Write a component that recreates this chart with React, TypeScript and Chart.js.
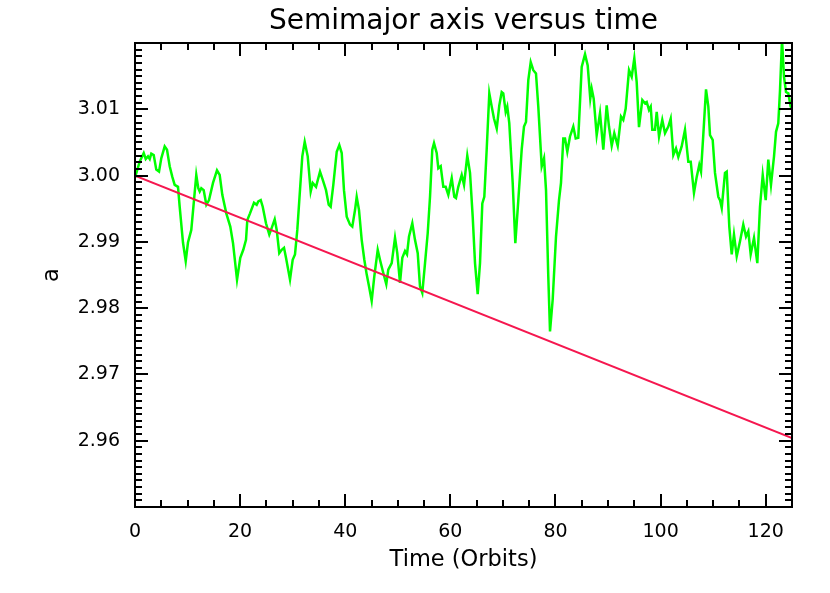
import React, { useEffect, useRef } from "react";
import { Chart, registerables } from "chart.js";

Chart.register(...registerables);

// Time (orbits) for the measured semimajor axis
const times: number[] = [
  0, 0.89, 1.66, 2.04, 2.47, 2.8, 3.1, 3.56, 4.05, 4.57, 5.0, 5.65, 6.09, 6.6, 7.1, 7.55, 8.18, 8.5, 9.13, 9.65,
  10.08, 10.71, 11.17, 11.66, 12.04, 12.31, 12.61, 13.07, 13.57, 14.08, 14.84, 15.6, 16.11, 16.61, 17.37, 18.13, 18.65, 19.41, 20.03, 20.6,
  21.12, 21.37, 21.88, 22.64, 23.15, 23.46, 23.92, 24.3, 24.92, 25.55, 26.01, 26.58, 26.96, 27.45, 27.91, 28.35, 28.73, 29.49, 30.0, 30.44,
  30.88, 31.39, 31.83, 32.29, 32.86, 33.43, 33.81, 34.44, 35.2, 35.71, 36.34, 36.85, 37.23, 37.73, 38.38, 38.87, 39.33, 39.76, 40.28, 40.91,
  41.34, 41.86, 42.18, 42.62, 43.13, 43.63, 44.08, 44.52, 45.03, 45.53, 46.18, 46.61, 47.24, 47.81, 48.19, 48.84, 49.47, 49.9, 50.42, 50.86,
  51.37, 51.75, 52.13, 52.76, 53.27, 53.79, 54.22, 54.66, 55.18, 55.69, 56.13, 56.56, 56.89, 57.4, 57.71, 58.16, 58.66, 59.11, 59.61, 60.26,
  60.75, 61.07, 61.51, 62.16, 62.6, 63.22, 63.74, 64.25, 64.69, 65.2, 65.64, 66.08, 66.46, 66.91, 67.41, 67.87, 68.3, 68.82, 69.31, 69.77,
  70.07, 70.53, 70.83, 71.21, 71.86, 72.36, 72.93, 73.57, 74.01, 74.39, 74.83, 75.29, 75.78, 76.29, 76.73, 77.38, 77.82, 78.2, 78.63, 78.96,
  79.47, 80.1, 80.67, 81.05, 81.49, 81.81, 82.25, 82.76, 83.39, 83.85, 84.34, 84.99, 85.62, 86.13, 86.62, 86.89, 87.27, 87.84, 88.47, 89.1,
  89.74, 90.18, 90.7, 91.19, 91.84, 92.47, 92.9, 93.36, 93.99, 94.5, 95.0, 95.45, 95.89, 96.52, 97.03, 97.36, 97.79, 98.12, 98.42, 98.93,
  99.26, 99.7, 100.32, 100.84, 101.47, 101.92, 102.42, 102.93, 103.37, 104.01, 104.64, 105.27, 105.73, 106.35, 106.87, 107.36, 107.69, 108.12, 108.64, 109.08,
  109.4, 109.91, 110.35, 110.98, 111.3, 111.63, 112.25, 112.58, 113.07, 113.53, 113.96, 114.48, 115.11, 115.73, 116.25, 116.69, 117.14, 117.77, 118.4, 118.91,
  119.43, 120.0, 120.49, 121.0, 121.58, 121.96, 122.39, 122.72, 123.1, 123.48, 123.86, 124.3, 124.75, 125.0,
];

// Semimajor axis a (measured)
const semimajor: number[] = [
  2.9997, 3.0021, 3.0034, 3.0025, 3.0029, 3.0025, 3.0033, 3.0031, 3.0009, 3.0006, 3.0026, 3.0044, 3.0039, 3.0014, 2.9998, 2.9986, 2.9983, 2.9953, 2.9899, 2.9871,
  2.9899, 2.9918, 2.9958, 3.0001, 2.9981, 2.9976, 2.9981, 2.9978, 2.9956, 2.9963, 2.9989, 3.0008, 3.0001, 2.9971, 2.9943, 2.9923, 2.9898, 2.9843, 2.9876, 2.9888,
  2.9903, 2.9933, 2.9943, 2.9959, 2.9956, 2.9961, 2.9963, 2.9953, 2.9928, 2.9911, 2.9921, 2.9934, 2.9918, 2.9883, 2.9888, 2.9891, 2.9876, 2.9843, 2.9873, 2.9881,
  2.9918, 2.9978, 3.0029, 3.0051, 3.0029, 2.9976, 2.9989, 2.9983, 3.0006, 2.9994, 2.9978, 2.9956, 2.9953, 2.9986, 3.0036, 3.0046, 3.0034, 2.9978, 2.9938, 2.9926,
  2.9923, 2.9948, 2.9968, 2.9948, 2.9903, 2.9873, 2.9851, 2.9833, 2.9811, 2.9848, 2.9888, 2.9873, 2.9853, 2.9836, 2.9858, 2.9868, 2.9906, 2.9883, 2.9838, 2.9876,
  2.9886, 2.9881, 2.9908, 2.9928, 2.9903, 2.9883, 2.9833, 2.9823, 2.9868, 2.9913, 2.9968, 3.0039, 3.0049, 3.0034, 3.0011, 3.0014, 2.9983, 2.9983, 2.9971, 2.9996,
  2.9968, 2.9966, 2.9983, 3.0001, 2.9986, 3.003, 3.0004, 2.9938, 2.9868, 2.9821, 2.9868, 2.9958, 2.9968, 3.0039, 3.0124, 3.0104, 3.0086, 3.0071, 3.0106, 3.0126,
  3.0124, 3.0096, 3.0104, 3.0079, 2.9989, 2.9898, 2.9963, 3.0039, 3.0074, 3.0081, 3.0144, 3.0171, 3.0159, 3.0154, 3.0104, 3.0014, 3.0026, 2.9978, 2.9848, 2.9765,
  2.9813, 2.9908, 2.9963, 2.9989, 3.0056, 3.0056, 3.0036, 3.0059, 3.0074, 3.0056, 3.0057, 3.0164, 3.0183, 3.0166, 3.0116, 3.0131, 3.0116, 3.0061, 3.0094, 3.0039,
  3.0106, 3.0074, 3.0045, 3.0064, 3.0045, 3.0089, 3.0084, 3.0101, 3.0159, 3.0149, 3.0177, 3.0141, 3.0073, 3.0114, 3.0109, 3.0111, 3.0099, 3.0104, 3.0069, 3.0069,
  3.0096, 3.0059, 3.0084, 3.0064, 3.0074, 3.0086, 3.0031, 3.0041, 3.0028, 3.0044, 3.0069, 3.0021, 3.0021, 2.9974, 2.9998, 3.0016, 3.0006, 3.0061, 3.013, 3.0104,
  3.0061, 3.0054, 3.0004, 2.9968, 2.9963, 2.9951, 3.0004, 3.0006, 2.9923, 2.9881, 2.9911, 2.9878, 2.9901, 2.9926, 2.9908, 2.9916, 2.9881, 2.9906, 2.9868, 2.9953,
  3.0001, 2.9963, 3.0024, 2.9986, 3.0029, 3.0066, 3.0079, 3.0129, 3.0205, 3.0149, 3.0126, 3.0124, 3.0104, 3.0102,
];

// Linear trend
const trendTimes: number[] = [0, 125];
const trendValues: number[] = [3.0, 2.9604];

// Axes
const xRange: number[] = [0, 125];
const yRange: number[] = [2.95, 3.02];
const xTickValues: number[] = [0, 20, 40, 60, 80, 100, 120];
const yTickValues: number[] = [2.96, 2.97, 2.98, 2.99, 3.0, 3.01];
const yTickLabels: string[] = ["2.96", "2.97", "2.98", "2.99", "3.00", "3.01"];
const xMajorStep = 20;
const xMinorStep = 5;
const yMajorStep = 0.01;
const yMinorStep = 0.001;

const TICK_FONT = { family: "DejaVu Sans", size: 19 };

const frameTicks = {
  id: "frameTicks",
  afterDatasetsDraw(chart: any) {
    const { ctx, chartArea, scales } = chart;
    const { left, right, top, bottom } = chartArea;
    const x = scales.x;
    const y = scales.y;
    ctx.save();
    ctx.strokeStyle = "#000";
    ctx.lineWidth = 2;
    ctx.beginPath();
    const nx = Math.round((xRange[1] - xRange[0]) / xMinorStep);
    for (let i = 0; i <= nx; i++) {
      const v = xRange[0] + i * xMinorStep;
      const px = Math.round(x.getPixelForValue(v));
      const major = Math.abs(v / xMajorStep - Math.round(v / xMajorStep)) < 1e-6;
      const len = major ? 13 : 7;
      ctx.moveTo(px, bottom);
      ctx.lineTo(px, bottom - len);
      ctx.moveTo(px, top);
      ctx.lineTo(px, top + len);
    }
    const ny = Math.round((yRange[1] - yRange[0]) / yMinorStep);
    for (let i = 0; i <= ny; i++) {
      const v = yRange[0] + i * yMinorStep;
      const py = Math.round(y.getPixelForValue(v));
      const major = i % Math.round(yMajorStep / yMinorStep) === 0;
      const len = major ? 13 : 7;
      ctx.moveTo(left, py);
      ctx.lineTo(left + len, py);
      ctx.moveTo(right, py);
      ctx.lineTo(right - len, py);
    }
    ctx.stroke();
    ctx.strokeRect(left, top, right - left, bottom - top);
    ctx.restore();
  },
};

export default function App() {
  const ref = useRef<HTMLCanvasElement | null>(null);

  useEffect(() => {
    if (!ref.current) return;
    const n = Math.min(times.length, semimajor.length);
    const measured = [];
    for (let i = 0; i < n; i++) measured.push({ x: times[i], y: semimajor[i] });
    const trend = trendTimes.map((t, i) => ({ x: t, y: trendValues[i] }));

    const chart = new Chart(ref.current, {
      type: "line",
      data: {
        datasets: [
          {
            label: "trend",
            data: trend,
            borderColor: "#f5174f",
            borderWidth: 2,
            pointRadius: 0,
            tension: 0,
          },
          {
            label: "a",
            data: measured,
            borderColor: "#00ff00",
            borderWidth: 2.5,
            pointRadius: 0,
            tension: 0,
          },
        ],
      },
      plugins: [frameTicks],
      options: {
        animation: false,
        responsive: false,
        devicePixelRatio: 1,
        layout: { padding: { left: 0, right: 38, top: 0, bottom: 0 } },
        plugins: {
          legend: { display: false },
          tooltip: { enabled: false },
          title: {
            display: true,
            fullSize: false,
            text: "Semimajor axis versus time",
            color: "#000",
            font: { family: "DejaVu Sans", size: 28, weight: "normal" },
            padding: { top: 5, bottom: 4.4 },
          },
        },
        scales: {
          x: {
            type: "linear",
            min: xRange[0],
            max: xRange[1],
            grid: { display: false, drawTicks: false },
            border: { display: false },
            afterBuildTicks: (s: any) => {
              s.ticks = xTickValues.map((v) => ({ value: v }));
            },
            ticks: {
              color: "#000",
              font: TICK_FONT,
              padding: 14,
              maxRotation: 0,
              autoSkip: false,
              callback: (v: any) => String(Number(v)),
            },
            title: {
              display: true,
              text: "Time (Orbits)",
              color: "#000",
              font: { family: "DejaVu Sans", size: 22.5 },
              padding: { top: 0, bottom: 19 },
            },
            afterFit: (s: any) => {
              s.height = 86;
            },
          },
          y: {
            type: "linear",
            min: yRange[0],
            max: yRange[1],
            grid: { display: false, drawTicks: false },
            border: { display: false },
            afterBuildTicks: (s: any) => {
              s.ticks = yTickValues.map((v) => ({ value: v }));
            },
            ticks: {
              color: "#000",
              font: TICK_FONT,
              padding: 15,
              autoSkip: false,
              callback: (_v: any, i: number) => yTickLabels[i],
            },
            title: {
              display: true,
              text: "a",
              color: "#000",
              font: { family: "DejaVu Sans", size: 22.5 },
              padding: { top: 39, bottom: 0 },
            },
            afterFit: (s: any) => {
              s.width = 135;
            },
          },
        },
      },
    } as any);
    return () => chart.destroy();
  }, []);

  return (
    <div style={{ position: "fixed", left: 0, top: 0, width: 830, height: 593, background: "#fff" }}>
      <canvas ref={ref} width={830} height={593} style={{ width: 830, height: 593, display: "block" }} />
    </div>
  );
}
